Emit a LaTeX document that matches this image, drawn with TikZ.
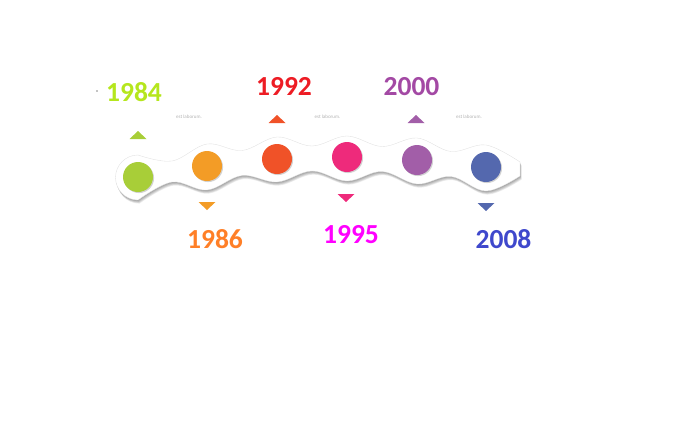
\documentclass[tikz,border=0pt]{standalone}
\usepackage{fontspec}
\setsansfont{Carlito}
\usetikzlibrary{shadows}
\definecolor{ptA}{HTML}{A8CE38}
\definecolor{ptB}{HTML}{F39C26}
\definecolor{ptC}{HTML}{F05228}
\definecolor{ptD}{HTML}{EE2A7B}
\definecolor{ptE}{HTML}{A25EA8}
\definecolor{ptF}{HTML}{5468AE}
\definecolor{yrA}{HTML}{B5E61D}
\definecolor{yrB}{HTML}{FF7F27}
\definecolor{yrC}{HTML}{ED1C24}
\definecolor{yrD}{HTML}{FF00FF}
\definecolor{yrE}{HTML}{A349A4}
\definecolor{yrF}{HTML}{3F48CC}
\tikzset{
  bead/.style={circle, minimum size=0.9cm, inner sep=0pt,
    drop shadow={shadow xshift=.9pt, shadow yshift=-.9pt, opacity=.35}},
  year/.style={font=\sffamily\bfseries\fontsize{23.5}{24}\selectfont, inner sep=0pt},
  note/.style={font=\sffamily\fontsize{4.3}{5}\selectfont, text=black!30, inner sep=0pt}
}
\begin{document}
\begin{tikzpicture}[x=0.03cm,y=-0.03cm]
\useasboundingbox (0,0) rectangle (677,421);
\def\band{plot[smooth, tension=.6] coordinates {(138,155) (172,161) (207,144) (242,150.5)
    (277,137) (312,146) (347,136) (382,146.5) (417,138) (451,151.5) (486,145) (520,162)}
  -- plot[smooth, tension=.6] coordinates {(520,176) (486,191) (451,176.5) (417,184)
    (382,171.5) (347,181) (312,171) (277,182) (242,175.5) (207,190) (172,182) (138,200)}
  arc (90:270:22.5) -- cycle}
\def\uptri{++(-8.5,4) -- ++(17,0) -- ++(-8.5,-8) -- cycle}
\def\downtri{++(-8.5,-4) -- ++(17,0) -- ++(-8.5,8) -- cycle}
% soft shadow under the ribbon
\foreach \s in {1,...,6}
  \fill[black, opacity=.07, shift={(.25*\s,.6*\s)}] \band;
\fill[white] \band;
\draw[black!12, line width=.3pt] \band;
%\draw[red] (138,177) -- (486,167);
\node[bead, fill=ptA] (c1) at (138,177) {};
\node[bead, fill=ptB] (c2) at (207,166) {};
\node[bead, fill=ptC] (c3) at (277,159) {};
\node[bead, fill=ptD] (c4) at (347,157) {};
\node[bead, fill=ptE] (c5) at (417,160) {};
\node[bead, fill=ptF] (c6) at (486,167) {};
\coordinate (t1) at (138,135);
\coordinate (t2) at (207,206);
\coordinate (t3) at (277,119);
\coordinate (t4) at (346,198);
\coordinate (t5) at (416,119);
\coordinate (t6) at (486,207);
\fill[ptA] (t1) \uptri;
\fill[ptB] (t2) \downtri;
\fill[ptC] (t3) \uptri;
\fill[ptD] (t4) \downtri;
\fill[ptE] (t5) \uptri;
\fill[ptF] (t6) \downtri;
\node[year, text=yrA] (y1) at (134,92.5) {1984};
\node[year, text=yrB] (y2) at (215,239) {1986};
\node[year, text=yrC] (y3) at (284,86) {1992};
\node[year, text=yrD] (y4) at (351,235) {1995};
\node[year, text=yrE] (y5) at (411.5,86.5) {2000};
\node[year, text=yrF] (y6) at (503.5,239) {2008};
\node[note] (n1) at (189,117) {est laborum.};
\node[note] (n2) at (327.5,117) {est laborum.};
\node[note] (n3) at (469,117) {est laborum.};
\fill (97,91) circle (.6);
\end{tikzpicture}
\end{document}
